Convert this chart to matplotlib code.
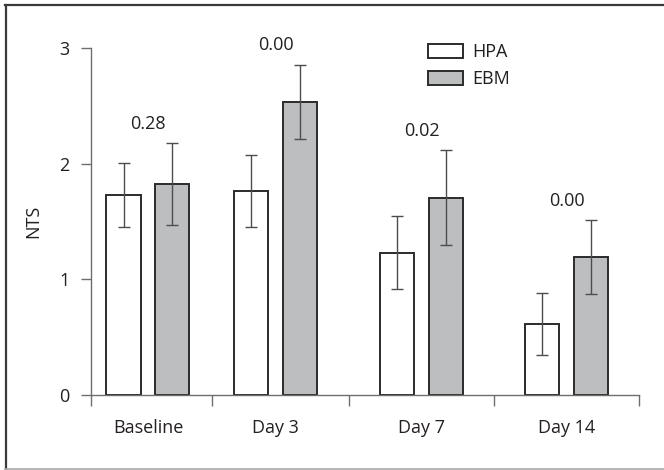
import matplotlib.pyplot as plt
import numpy as np
from matplotlib.lines import Line2D

plt.rcParams['font.family'] = ['Open Sans', 'DejaVu Sans']

# data
groups = ['Baseline', 'Day 3', 'Day 7', 'Day 14']
hpa_mean = [1.73, 1.765, 1.23, 0.615]
hpa_err = [0.275, 0.31, 0.315, 0.27]
ebm_mean = [1.825, 2.535, 1.705, 1.19]
ebm_err = [0.355, 0.32, 0.41, 0.32]
p_values = ['0.28', '0.00', '0.02', '0.00']
p_label_y = [2.34, 3.03, 2.28, 1.675]

# layout (group centres are not evenly spaced in the original)
group_pos = np.array([0.0, 1.0, 2.145, 3.282])
separators = [-0.447, 0.5, 1.573, 2.713, 3.851]
bar_w = 0.267
offset = 0.192
fs = 13

text_col = '#231f20'
axis_col = '#6d6e71'
edge_col = '#2b2b2b'
err_col = '#4d4d4f'

fig = plt.figure(figsize=(6.64, 4.70), dpi=100)
ax = fig.add_axes([91 / 664, 1 - 395 / 470, (639 - 91) / 664, (395 - 48) / 470])

ax.bar(group_pos - offset, hpa_mean, bar_w, color='white', edgecolor=edge_col,
       linewidth=1.4, label='HPA', zorder=2)
ax.bar(group_pos + offset, ebm_mean, bar_w, color='#bcbec0', edgecolor=edge_col,
       linewidth=1.4, label='EBM', zorder=2)
ax.errorbar(group_pos - offset, hpa_mean, yerr=hpa_err, fmt='none', ecolor=err_col,
            elinewidth=1.0, capsize=4, capthick=1.0, zorder=3)
ax.errorbar(group_pos + offset, ebm_mean, yerr=ebm_err, fmt='none', ecolor=err_col,
            elinewidth=1.0, capsize=4, capthick=1.0, zorder=3)

for x, y, s in zip(group_pos, p_label_y, p_values):
    ax.text(x, y, s, ha='center', va='center', fontsize=fs, color=text_col)

ax.set_xlim(separators[0], separators[-1])
ax.set_ylim(0, 3)

for side in ['top', 'right']:
    ax.spines[side].set_visible(False)
for side in ['left', 'bottom']:
    ax.spines[side].set_color(axis_col)
    ax.spines[side].set_linewidth(1.0)

ax.set_yticks([0, 1, 2, 3])
ax.tick_params(axis='y', direction='out', length=7.5, width=1.0, color=axis_col,
               labelsize=fs, labelcolor=text_col, pad=8)
ax.set_xticks(group_pos)
ax.set_xticklabels(groups)
ax.tick_params(axis='x', length=0, labelsize=fs, labelcolor=text_col, pad=17)
ax.set_xticks(separators, minor=True)
ax.tick_params(axis='x', which='minor', direction='out', length=8, width=1.0, color=axis_col)

ax.set_ylabel('NTS', fontsize=fs, color=text_col, labelpad=12)

ax.legend(loc='upper left', bbox_to_anchor=(428 / 664, 1 - 43 / 470),
          bbox_transform=fig.transFigure, frameon=False, fontsize=fs,
          handlelength=1.95, handleheight=0.85, handletextpad=0.5,
          labelspacing=0.52, borderpad=0, borderaxespad=0, labelcolor=text_col)

# outer frame
fig.add_artist(Line2D([5 / 664, 1], [1 - 5 / 470, 1 - 5 / 470], transform=fig.transFigure,
                      color='#3a3a3a', linewidth=1.6))
fig.add_artist(Line2D([5.5 / 664, 5.5 / 664], [1 - 5 / 470, 1 - 468.5 / 470],
                      transform=fig.transFigure, color='#3a3a3a', linewidth=1.6))
fig.add_artist(Line2D([5 / 664, 1], [1 - 468.5 / 470, 1 - 468.5 / 470],
                      transform=fig.transFigure, color='#a7a9ac', linewidth=1.2))

fig.savefig('out.png', dpi=100)
